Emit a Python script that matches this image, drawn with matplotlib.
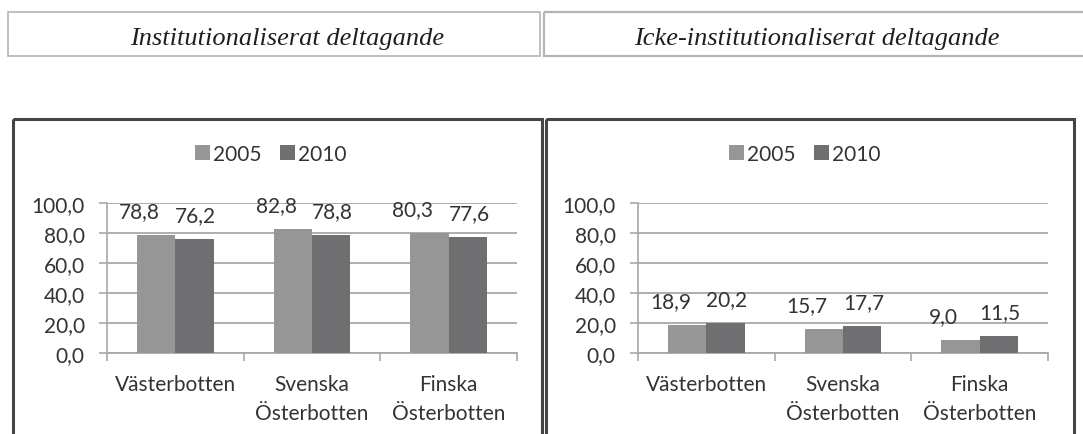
import matplotlib.pyplot as plt
from matplotlib.patches import Rectangle

# data
regions = ["Västerbotten", "Svenska\nÖsterbotten", "Finska\nÖsterbotten"]
years = ["2005", "2010"]
inst_2005 = [78.8, 82.8, 80.3]
inst_2010 = [76.2, 78.8, 77.6]
nonin_2005 = [18.9, 15.7, 9.0]
nonin_2010 = [20.2, 17.7, 11.5]
titles = ["Institutionaliserat deltagande", "Icke-institutionaliserat deltagande"]

W, H = 1083, 435
c2005 = "#969696"
c2010 = "#6f6f71"
grid_c = "#a8a8a8"
txt_c = "#333333"

plt.rcParams["font.family"] = ["Lato", "DejaVu Sans"]

fig = plt.figure(figsize=(W / 100, H / 100), dpi=100)

# background layer in pixel coordinates for boxes and headers
bg = fig.add_axes([0, 0, 1, 1])
bg.set_xlim(0, W)
bg.set_ylim(H, 0)
bg.axis("off")

# header boxes
bg.add_patch(Rectangle((8, 13), 532, 44, fill=False, ec="#b4b4b4", lw=1.2))
bg.add_patch(Rectangle((544, 13), 560, 44, fill=False, ec="#b4b4b4", lw=1.6))
bg.text(287, 45, titles[0], ha="center", va="baseline", fontsize=19,
        style="italic", family="Liberation Serif", color="#1e1e1e")
bg.text(817, 45, titles[1], ha="center", va="baseline", fontsize=19,
        style="italic", family="Liberation Serif", color="#1e1e1e")

# chart frames
bg.add_patch(Rectangle((13, 120), 529, 330, fill=False, ec="#454545", lw=2.2))
bg.add_patch(Rectangle((546, 120), 528, 330, fill=False, ec="#454545", lw=2.2))


def draw_chart(x0, legend_cx, vals_a, vals_b):
    # plot area: x0..x0+410 px, value 100 at y=204, 0 at y=354
    ax = fig.add_axes([x0 / W, (H - 354) / H, 410 / W, 150 / H])
    ax.set_zorder(2)
    ax.patch.set_alpha(0)

    w = 0.28
    pos = list(range(len(regions)))
    b1 = ax.bar([p - w / 2 for p in pos], vals_a, width=w, color=c2005, label=years[0], zorder=3)
    b2 = ax.bar([p + w / 2 for p in pos], vals_b, width=w, color=c2010, label=years[1], zorder=3)

    for rect, v in zip(b1, vals_a):
        ax.annotate(f"{v:.1f}".replace(".", ","),
                    (rect.get_x() + rect.get_width() / 2, v),
                    xytext=(-12, 10), textcoords="offset points",
                    ha="center", va="bottom", fontsize=15, color=txt_c,
                    annotation_clip=False)
    for rect, v in zip(b2, vals_b):
        ax.annotate(f"{v:.1f}".replace(".", ","),
                    (rect.get_x() + rect.get_width() / 2, v),
                    xytext=(1, 10), textcoords="offset points",
                    ha="center", va="bottom", fontsize=15, color=txt_c,
                    annotation_clip=False)

    ax.set_xlim(-0.5, len(regions) - 0.5)
    ax.set_ylim(0, 100)
    ax.set_yticks([0, 20, 40, 60, 80, 100])
    ax.set_yticklabels([f"{t:.1f}".replace(".", ",") for t in [0, 20, 40, 60, 80, 100]])
    ax.yaxis.grid(True, color=grid_c, lw=1.3, zorder=0)
    ax.set_axisbelow(True)

    ax.set_xticks(pos)
    ax.set_xticklabels(regions, linespacing=1.55)
    ax.set_xticks([p - 0.5 for p in pos] + [len(regions) - 0.5], minor=True)

    ax.tick_params(axis="x", which="major", length=0, pad=15, labelsize=15, labelcolor=txt_c)
    ax.tick_params(axis="x", which="minor", length=6, width=1.2, color=grid_c, direction="out")
    ax.tick_params(axis="y", length=6, width=1.2, color=grid_c, pad=10, labelsize=15, labelcolor=txt_c)

    for s in ["top", "right"]:
        ax.spines[s].set_visible(False)
    ax.spines["left"].set_color(grid_c)
    ax.spines["left"].set_linewidth(1.2)
    ax.spines["bottom"].set_color(grid_c)
    ax.spines["bottom"].set_linewidth(1.3)

    ax.legend(loc="center", bbox_to_anchor=(legend_cx / W, 1 - 155 / H),
              bbox_transform=fig.transFigure, ncol=2, frameon=False,
              fontsize=15, handlelength=0.7, handleheight=0.7,
              handletextpad=0.15, columnspacing=0.9, labelcolor=txt_c)
    return ax


draw_chart(107, 271, inst_2005, inst_2010)
draw_chart(638, 805, nonin_2005, nonin_2010)

fig.savefig("out.png", dpi=100)
